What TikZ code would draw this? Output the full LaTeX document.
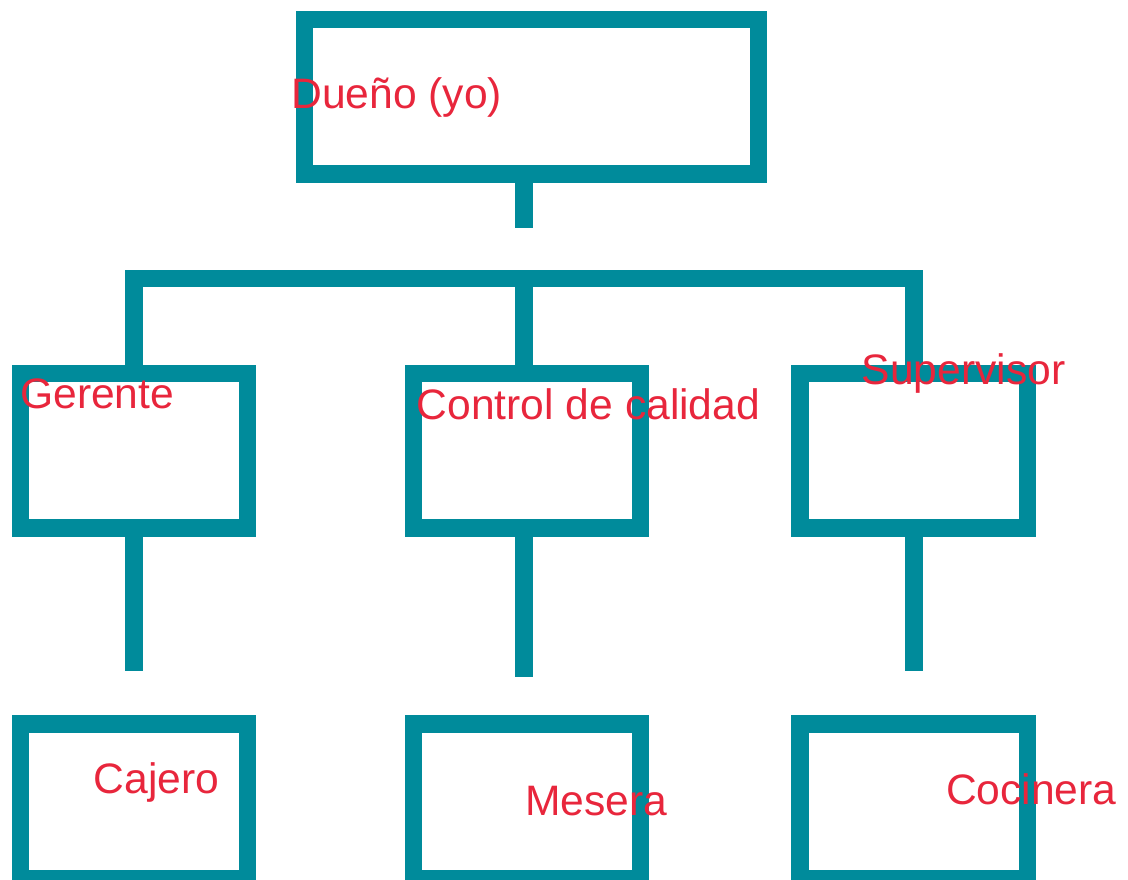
\documentclass[tikz,border=0pt]{standalone}
\usepackage{fontspec}
\setmainfont{Liberation Sans}
\definecolor{teal}{RGB}{0,139,155}
\definecolor{lbl}{RGB}{232,38,60}
\tikzset{
  x=1pt, y=-1pt,
  orgbox/.style={draw=teal, line width=17.5pt, rectangle, inner sep=0pt, outer sep=0pt,
    minimum width=227.2pt, minimum height=154.5pt},
  link/.style={draw=teal, line width=17.5pt, line cap=butt, line join=miter},
  lbltext/.style={text=lbl, font=\fontsize{42.6pt}{50pt}\selectfont, inner sep=0pt, outer sep=0pt, anchor=base west}
}
\begin{document}
\begin{tikzpicture}
\useasboundingbox (0,0) rectangle (1128,879);
\clip (0,0) rectangle (1128,879);
% boxes
\node[orgbox, minimum width=454.4pt, minimum height=154.3pt] (owner) at (531.5,96.85) {};
\node[orgbox] (ger) at (133.9,450.5) {};
\node[orgbox] (ctrl) at (526.9,450.5) {};
\node[orgbox] (sup) at (913.8,450.5) {};
\node[orgbox] (caj) at (133.9,801.3) {};
\node[orgbox] (mes) at (526.9,801.3) {};
\node[orgbox] (coc) at (913.8,801.3) {};
% coordinates
\coordinate (ownerstem) at (524,174);
\coordinate (ownerend) at (524,227.7);
\coordinate (gtop) at (133.8,373.3);
\coordinate (ctop) at (524,373.3);
\coordinate (stop) at (913.8,373.3);
\coordinate (barL) at (133.8,278.7);
\coordinate (barR) at (913.8,278.7);
\coordinate (barM) at (524,278.7);
\coordinate (gbot) at (133.8,527.8);
\coordinate (cbot) at (524,527.8);
\coordinate (sbot) at (913.8,527.8);
\coordinate (gend) at (133.8,671);
\coordinate (cend) at (524,676.7);
\coordinate (send) at (913.8,671);
% connectors
\draw[link] (ownerstem) -- (ownerend);
\draw[link] (gtop) -- (barL) -- (barR) -- (stop);
\draw[link] (barM) -- (ctop);
\draw[link] (gbot) -- (gend);
\draw[link] (cbot) -- (cend);
\draw[link] (sbot) -- (send);
% labels
\node[lbltext] (towner) at (291.4,108.2) {Dueño (yo)};
\node[lbltext] (tger) at (20.2,408.2) {Gerente};
\node[lbltext] (tctrl) at (416.7,419.8) {Control de calidad};
\node[lbltext] (tsup) at (861.8,384.8) {Supervisor};
\node[lbltext] (tcaj) at (93.7,793.8) {Cajero};
\node[lbltext] (tmes) at (525.4,815.5) {Mesera};
\node[lbltext] (tcoc) at (946.1,804.8) {Cocinera};
\end{tikzpicture}
\end{document}
